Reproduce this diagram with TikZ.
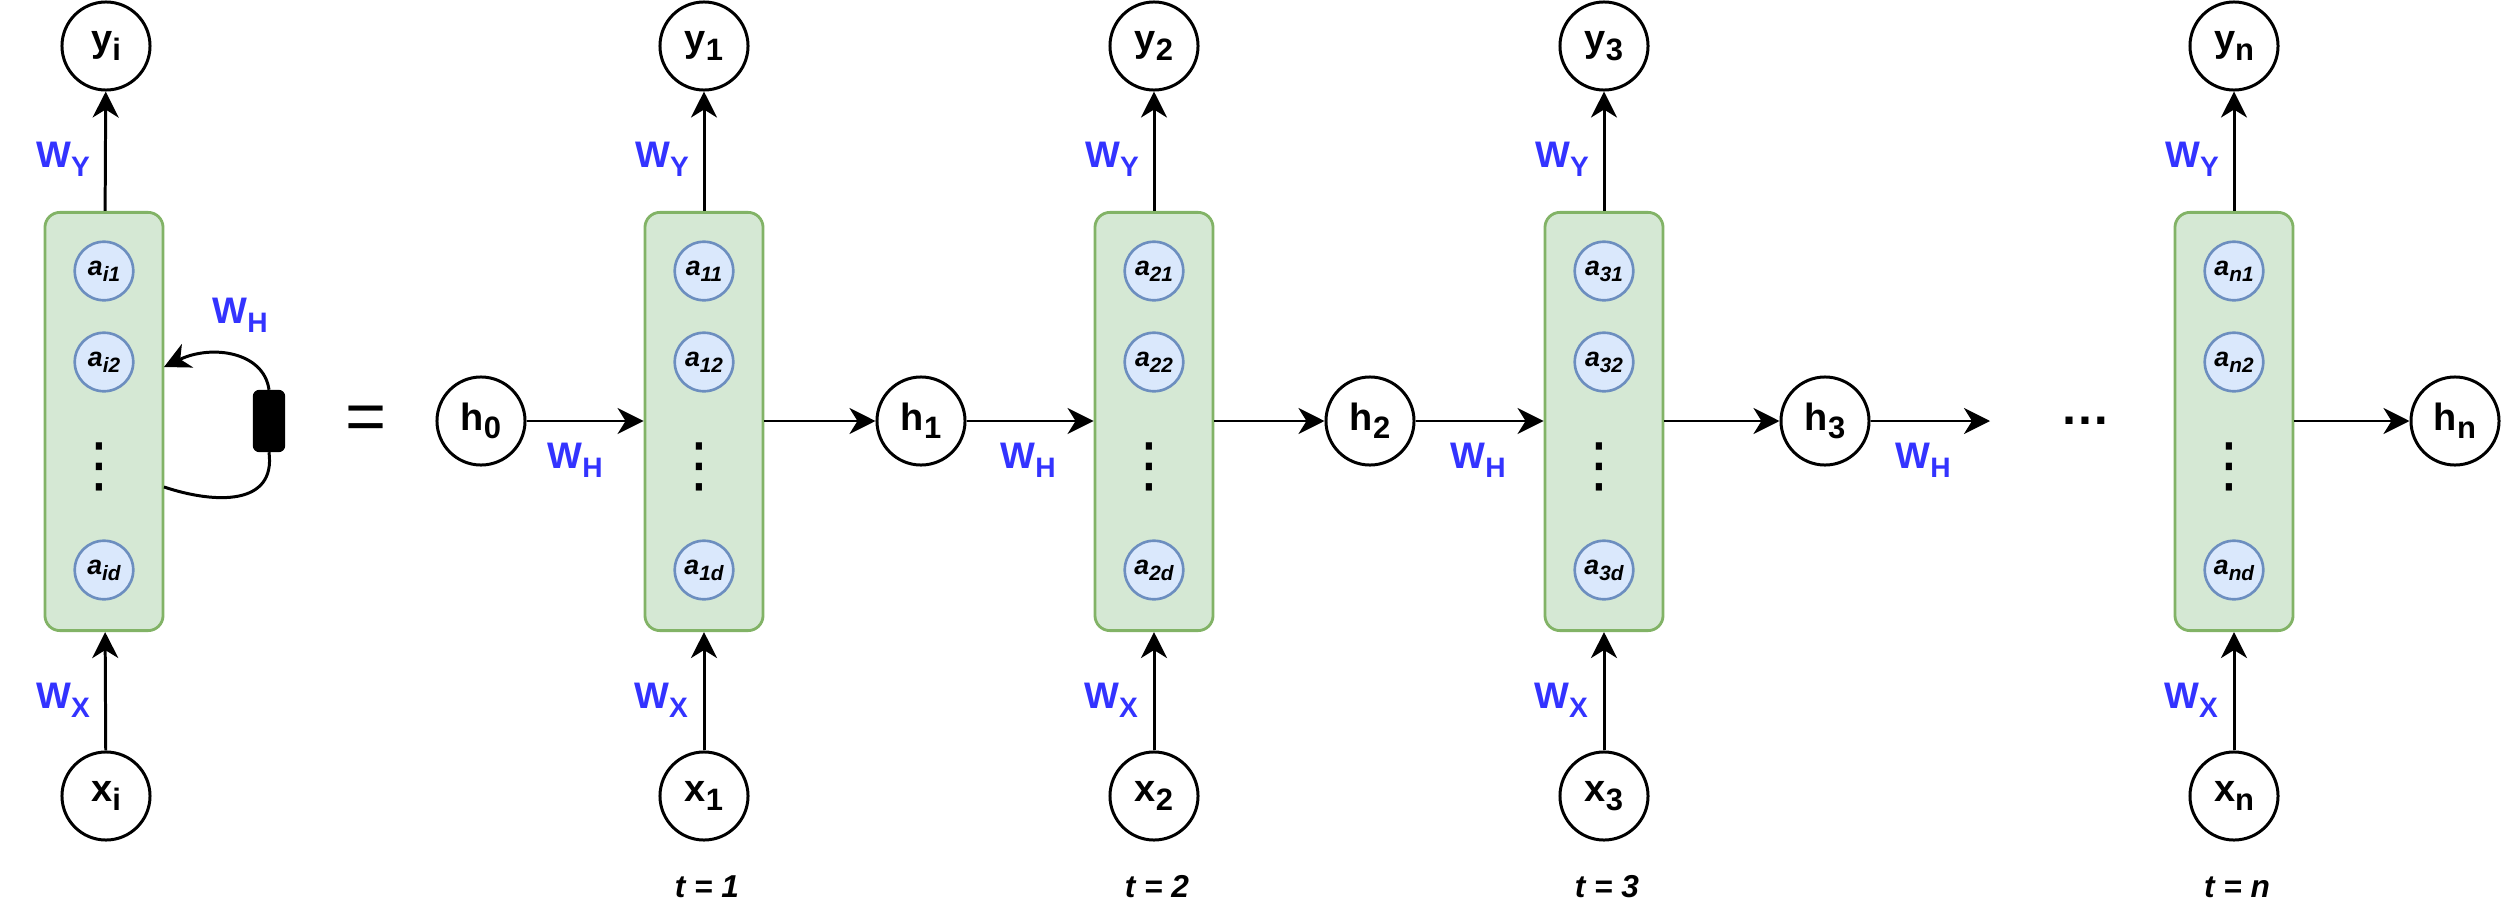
\documentclass[tikz,border=0pt]{standalone}
\usepackage{fontspec}
\setmainfont{Liberation Sans}
\newfontfamily\dejavu{DejaVu Sans}
\usetikzlibrary{arrows.meta}
\definecolor{gfill}{HTML}{D5E8D4}
\definecolor{gline}{HTML}{82B366}
\definecolor{bfill}{HTML}{DAE8FC}
\definecolor{bline}{HTML}{6C8EBF}
\definecolor{wblue}{HTML}{3333FF}
\newcommand{\nlab}[2]{\fontsize{10.8}{12}\selectfont\bfseries #1\raisebox{-2.4pt}{\fontsize{8.8}{10}\selectfont #2}}
\newcommand{\wlab}[1]{\fontsize{10.5}{12}\selectfont\bfseries W\raisebox{-2.6pt}{\fontsize{8}{9}\selectfont #1}}
\newcommand{\alab}[1]{\fontsize{7.6}{9}\selectfont\bfseries\itshape a\raisebox{-1.7pt}{\fontsize{5.9}{7}\selectfont #1}}
\newcommand{\vdotglyph}{\dejavu\fontsize{17}{17}\selectfont ⋮}
\begin{document}
\begin{tikzpicture}[x=0.01cm,y=-0.01cm,
  io/.style={circle, draw, line width=0.85pt, minimum size=0.88cm, inner sep=0pt, fill=white},
  cell/.style={draw=gline, fill=gfill, line width=0.8pt, rounded corners=0.15cm, minimum width=1.18cm, minimum height=4.18cm, inner sep=0pt},
  unit/.style={circle, draw=bline, fill=bfill, line width=0.75pt, minimum size=0.585cm, inner sep=0pt},
  arr/.style={-{Stealth[length=0.26cm,width=0.26cm,inset=0.08cm]}, line width=0.85pt},
  plain/.style={line width=0.85pt},
  wl/.style={text=wblue, inner sep=0pt},
  vd/.style={inner sep=0pt},
  tl/.style={inner sep=0pt, font=\fontsize{9}{10}\selectfont\bfseries\itshape},
  dly/.style={draw, fill=black, rounded corners=0.06cm, minimum width=0.31cm, minimum height=0.61cm, inner sep=0pt}]
\useasboundingbox (0,0) rectangle (2502,918);

% ---- folded (left) column
\node[cell] (Bi) at (104,421.5) {};
\node[unit] (Ai1) at (104,271) {\alab{i1}};
\node[unit] (Ai2) at (104,362) {\alab{i2}};
\node[vd] (Vi) at (99,467) {\vdotglyph};
\node[unit] (Aid) at (104,570) {\alab{id}};
\node[io] (Yi) at (106,46) {\nlab{y}{i}};
\node[io] (Xi) at (106,796) {\nlab{x}{i}};
\draw[arr] (Bi) -- (Yi);
\draw[arr] (Xi) -- (Bi);
\node[wl] (WYi) at (63,159) {\wlab{Y}};
\node[wl] (WXi) at (63,700) {\wlab{X}};
\node[dly] (D) at (269,421) {};
\coordinate (Pin) at (164,367);
\coordinate (Pout) at (164,487);
\draw[arr] (D.north) .. controls (264,352) and (212,344) .. (Pin);
\draw[plain] (Pout) .. controls (215,504) and (276,506) .. (D.south);
\node[wl] (WHi) at (240,315) {\wlab{H}};
\node[inner sep=0pt] (eq) at (366,423) {\fontsize{20}{20}\selectfont =};

% ---- unrolled columns
\foreach \c/\idx in {704/1,1154/2,1604/3,2234/n}{
  \node[cell] (B\idx) at (\c,421.5) {};
  \node[unit] (A\idx-1) at (\c,271) {\alab{\idx1}};
  \node[unit] (A\idx-2) at (\c,362) {\alab{\idx2}};
  \node[vd] (V\idx) at (\c-5,467) {\vdotglyph};
  \node[unit] (A\idx-d) at (\c,570) {\alab{\idx d}};
  \node[io] (Y\idx) at (\c,46) {\nlab{y}{\idx}};
  \node[io] (X\idx) at (\c,796) {\nlab{x}{\idx}};
  \draw[arr] (B\idx) -- (Y\idx);
  \draw[arr] (X\idx) -- (B\idx);
  \node[wl] (WY\idx) at (\c-42,159) {\wlab{Y}};
  \node[wl] (WX\idx) at (\c-43,700) {\wlab{X}};
  \node[tl] (T\idx) at (\c+3,887) {t = \idx};
}

% ---- hidden states
\node[io] (H0) at (481,421) {\nlab{h}{0}};
\node[io] (H1) at (921,421) {\nlab{h}{1}};
\node[io] (H2) at (1370,421) {\nlab{h}{2}};
\node[io] (H3) at (1825,421) {\nlab{h}{3}};
\node[io] (Hn) at (2455,421) {\nlab{h}{n}};
\coordinate (Hend) at (1990,421);

\draw[arr] (H0) -- (H0 -| B1.west);
\draw[arr] (H1 -| B1.east) -- (H1);
\draw[arr] (H1) -- (H1 -| B2.west);
\draw[arr] (H2 -| B2.east) -- (H2);
\draw[arr] (H2) -- (H2 -| B3.west);
\draw[arr] (H3 -| B3.east) -- (H3);
\draw[arr] (H3) -- (Hend);
\draw[arr] (Hn -| Bn.east) -- (Hn);

\node[wl] (WH1) at (575,460) {\wlab{H}};
\node[wl] (WH2) at (1028,460) {\wlab{H}};
\node[wl] (WH3) at (1478,460) {\wlab{H}};
\node[wl] (WH4) at (1923,460) {\wlab{H}};

\node[anchor=base, inner sep=0pt] (ell) at (2085,424) {\fontsize{14.2}{15}\selectfont\bfseries …};
\end{tikzpicture}
\end{document}
